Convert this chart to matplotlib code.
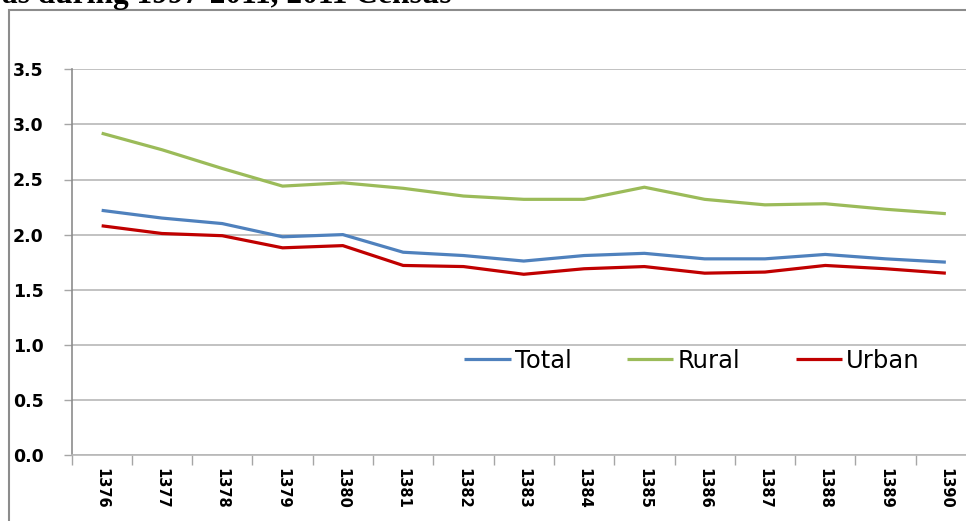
import matplotlib
matplotlib.use("Agg")
import matplotlib.pyplot as plt
from matplotlib.patches import Rectangle
import numpy as np

years = ["1376", "1377", "1378", "1379", "1380", "1381", "1382", "1383",
         "1384", "1385", "1386", "1387", "1388", "1389", "1390"]
total = [2.22, 2.15, 2.10, 1.98, 2.00, 1.84, 1.81, 1.76, 1.81, 1.83, 1.78, 1.78, 1.82, 1.78, 1.75]
rural = [2.92, 2.77, 2.60, 2.44, 2.47, 2.42, 2.35, 2.32, 2.32, 2.43, 2.32, 2.27, 2.28, 2.23, 2.19]
urban = [2.08, 2.01, 1.99, 1.88, 1.90, 1.72, 1.71, 1.64, 1.69, 1.71, 1.65, 1.66, 1.72, 1.69, 1.65]
yticks = [0.0, 0.5, 1.0, 1.5, 2.0, 2.5, 3.0, 3.5]
title_text = "as during 1997-2011, 2011 Census"

W, H = 966, 521
fig = plt.figure(figsize=(W / 100, H / 100), dpi=100)

# chart border (extends beyond right/bottom)
fig.patches.append(Rectangle((8.5 / W, -0.05), 1.2, (H - 10.5) / H + 0.05,
                             transform=fig.transFigure, fill=False,
                             edgecolor="#8c8c8c", linewidth=1.5, zorder=0))

fig.text(452 / W, 1 - 3.5 / H, title_text, ha="right", va="baseline",
         fontsize=22.6, fontweight="bold", family="Liberation Serif")

left, right, top, bottom = 71.5, 976, 69.3, 455
ax = fig.add_axes([left / W, (H - bottom) / H, (right - left) / W, (bottom - top) / H])

x = np.arange(len(years))
ax.plot(x, total, color="#4F81BD", lw=2.3, label="Total", solid_capstyle="butt")
ax.plot(x, rural, color="#9BBB59", lw=2.3, label="Rural", solid_capstyle="butt")
ax.plot(x, urban, color="#C00000", lw=2.3, label="Urban", solid_capstyle="butt")

ax.set_xlim(-0.5, len(years) - 0.5)
ax.set_ylim(0, 3.5)
ax.set_yticks(yticks)
ax.set_yticklabels([f"{v:.1f}" for v in yticks], fontsize=12.5, fontweight="bold",
                   family="DejaVu Sans")
ax.set_xticks(x)
ax.set_xticklabels(years, rotation=270, fontsize=10.5, fontweight="bold",
                   family="DejaVu Sans", va="top", ha="center")
ax.set_xticks(np.arange(len(years) + 1) - 0.5, minor=True)
ax.tick_params(axis="x", which="major", length=0, pad=9.5)
ax.tick_params(axis="x", which="minor", length=7, width=1, color="#a6a6a6", direction="out")
ax.tick_params(axis="y", length=6, width=1, color="#a6a6a6", direction="out", pad=14)

ax.grid(axis="y", color="#b8b8b8", lw=1.2)
ax.set_axisbelow(True)
for s in ["top", "right"]:
    ax.spines[s].set_visible(False)
ax.spines["left"].set_color("#8c8c8c")
ax.spines["bottom"].set_color("#b8b8b8")
ax.spines["left"].set_linewidth(1.2)
ax.spines["bottom"].set_linewidth(1.2)

leg = ax.legend(ncol=3, loc="center", bbox_to_anchor=(692 / W, 1 - 361 / H),
                bbox_transform=fig.transFigure, frameon=False,
                handlelength=1.9, handletextpad=0.16, columnspacing=2.3,
                prop={"family": "DejaVu Sans", "size": 17.5})

fig.savefig("out.png", dpi=100)
